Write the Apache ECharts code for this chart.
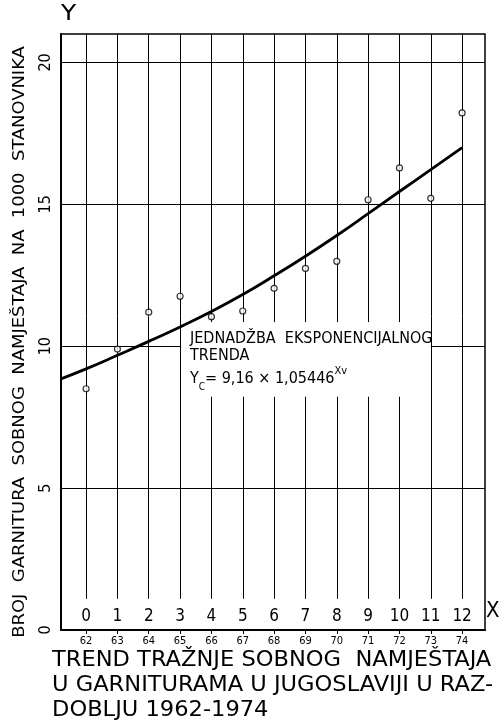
<!DOCTYPE html>
<html><head><meta charset="utf-8">
<script src="https://cdn.jsdelivr.net/npm/echarts@6/dist/echarts.min.js"></script>
<style>html,body{margin:0;padding:0;background:#fff}#c{width:501px;height:723px}</style>
</head><body><div id="c"></div>
<script>
// ---- data ----
const periodIndex = [0,1,2,3,4,5,6,7,8,9,10,11,12];
const yearLabels  = ['62','63','64','65','66','67','68','69','70','71','72','73','74'];
const observed    = [8.50, 9.90, 11.20, 11.76, 11.04, 11.24, 12.04, 12.74, 12.99, 15.16, 16.28, 15.21, 18.22];
const trendX      = [-0.8, 0, 1, 2, 3, 4, 5, 6, 7, 8, 9, 10, 11, 12];
const trendY      = [8.85, 9.2, 9.68, 10.17, 10.68, 11.22, 11.82, 12.48, 13.17, 13.9, 14.67, 15.45, 16.22, 17.0];
const yTicks      = [0, 5, 10, 15, 20];
const hGridValues = [5, 10, 15, 20];

const X_MIN = -0.8, X_MAX = 12.73, Y_MIN = 0, Y_MAX = 21;
const FONT = "'DejaVu Sans Condensed','Liberation Sans Narrow','DejaVu Sans',sans-serif";

// grid lines (the annotation box interrupts some of them)
const V_BOTTOM = 1.1, BOX_LOW = 8.22, BOX_HIGH = 10.85, BOX_FROM = 4, BOX_TO = 10;
const gridLines = [];
periodIndex.forEach(i => {
  if (i >= BOX_FROM && i <= BOX_TO) {
    gridLines.push([{coord:[i, V_BOTTOM]}, {coord:[i, BOX_LOW]}]);
    gridLines.push([{coord:[i, BOX_HIGH]}, {coord:[i, Y_MAX]}]);
  } else {
    gridLines.push([{coord:[i, V_BOTTOM]}, {coord:[i, Y_MAX]}]);
  }
});
hGridValues.forEach(v => {
  if (v === 10) {
    gridLines.push([{coord:[X_MIN, v]}, {coord:[BOX_FROM - 1, v]}]);
    gridLines.push([{coord:[BOX_TO + 1, v]}, {coord:[X_MAX, v]}]);
  } else {
    gridLines.push([{coord:[X_MIN, v]}, {coord:[X_MAX, v]}]);
  }
});

const chart = echarts.init(document.getElementById('c'), null, {renderer:'canvas'});
chart.setOption({
  animation: false,
  backgroundColor: '#fff',
  textStyle: {fontFamily: FONT, color: '#000'},
  grid: {left: 61, right: 16, top: 34, bottom: 93, show: true, borderColor: '#000', borderWidth: 1.5, backgroundColor: 'transparent'},
  xAxis: [{
    type: 'value', min: X_MIN, max: X_MAX, position: 'bottom',
    axisLine: {onZero: false, lineStyle: {color: '#000', width: 2}},
    axisTick: {show: true, customValues: periodIndex, length: 4, lineStyle: {color: '#000', width: 1}},
    axisLabel: {customValues: periodIndex, formatter: v => yearLabels[periodIndex.indexOf(Math.round(v))] || '',
                fontSize: 11, margin: 6, color: '#000', fontFamily: FONT},
    splitLine: {show: false}
  }, {
    type: 'value', min: X_MIN, max: X_MAX, position: 'bottom',
    axisLine: {show: false, onZero: false}, axisTick: {show: false},
    axisLabel: {inside: true, customValues: periodIndex, formatter: v => String(Math.round(v)),
                fontSize: 17, margin: 5, color: '#000', fontFamily: FONT},
    splitLine: {show: false}
  }],
  yAxis: {
    type: 'value', min: Y_MIN, max: Y_MAX, interval: 5,
    axisLine: {show: true, onZero: false, lineStyle: {color: '#000', width: 2}},
    axisTick: {show: false},
    axisLabel: {customValues: yTicks, rotate: 90, fontSize: 16, margin: 7, color: '#000', fontFamily: FONT},
    splitLine: {show: false}
  },
  graphic: [
    {type: 'text', x: 61, y: 3, scaleX: 1.25, style: {text: 'Y', fontSize: 22, fontFamily: FONT, fill: '#000'}},
    {type: 'text', x: 486, y: 600, style: {text: 'X', fontSize: 22, fontFamily: FONT, fill: '#000'}},
    {type: 'text', x: 20, y: 342, rotation: Math.PI / 2, scaleX: 1.33,
     style: {text: 'BROJ  GARNITURA  SOBNOG  NAMJEŠTAJA  NA  1000  STANOVNIKA', fontSize: 15, fontFamily: FONT,
             fill: '#000', align: 'center', verticalAlign: 'middle'}},
    {type: 'text', x: 52, y: 648, scaleX: 1.14,
     style: {text: 'TREND TRAŽNJE SOBNOG  NAMJEŠTAJA\nU GARNITURAMA U JUGOSLAVIJI U RAZ-\nDOBLJU 1962-1974',
             fontSize: 22, lineHeight: 25, fontFamily: FONT, fill: '#000'}},
    {type: 'text', x: 190, y: 330,
     style: {text: 'JEDNADŽBA  EKSPONENCIJALNOG\nTRENDA', fontSize: 16, lineHeight: 17, fontFamily: FONT, fill: '#000'}},
    {type: 'text', x: 190, y: 366,
     style: {text: '{a|Y}{s|C}{a|= 9,16 × 1,05446}{p|Xv}', fontFamily: FONT, fill: '#000',
             rich: {a: {fontSize: 16, lineHeight: 26, verticalAlign: 'middle', fontFamily: FONT},
                    s: {fontSize: 10, lineHeight: 26, verticalAlign: 'bottom', fontFamily: FONT},
                    p: {fontSize: 11, lineHeight: 26, verticalAlign: 'top', fontFamily: FONT}}}}
  ],
  series: [{
    type: 'line', xAxisIndex: 0, data: [], silent: true,
    markLine: {silent: true, symbol: 'none', label: {show: false}, animation: false,
               lineStyle: {color: '#000', width: 1, type: 'solid'}, emphasis: {disabled: true}, data: gridLines}
  }, {
    type: 'line', xAxisIndex: 0, smooth: true, showSymbol: false, symbol: 'none', z: 4,
    lineStyle: {color: '#000', width: 2.8},
    data: trendX.map((x, k) => [x, trendY[k]])
  }, {
    type: 'scatter', xAxisIndex: 0, symbol: 'circle', symbolSize: 6, z: 5,
    itemStyle: {color: '#fff', borderColor: '#000', borderWidth: 1.2},
    data: periodIndex.map((x, k) => [x, observed[k]])
  }]
});
</script></body></html>
